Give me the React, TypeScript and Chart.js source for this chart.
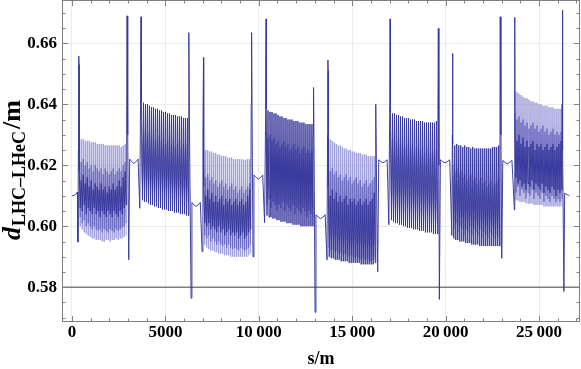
import React, { useEffect, useRef } from "react";
import { Chart, registerables } from "chart.js";
Chart.register(...registerables);

// ---- axes ----
const X_MIN = -533;
const X_MAX = 27192;
const Y_MIN = 0.5686;
const Y_MAX = 0.6742;
const xTickValues = [0, 5000, 10000, 15000, 20000, 25000];
const yTickValues = [0.58, 0.6, 0.62, 0.64, 0.66];
const xMinorStep = 1000;
const yMinorStep = 0.005;
const referenceLevel = 0.58;

// ---- lattice: arc start positions (m) and half-cell length (m) ----
const arcStarts = [390, 3722, 7054, 10386, 13718, 17050, 20382, 23714];
const halfCell = 53.45;

// ---- arc values, in mm (peak / trough per cell) ----
const arc1LightHi = [629,628.5,628.5,628,628,628,627.5,627.5,627.5,627,627,627,627,626.5,626.5,626.5,626.5,626.5,626.5,626.5,626.5,626,626.5,627];
const arc1LightLo = [600,599,598,597.5,597,596.5,596,596,595.5,595.5,595.5,595,595,595.5,595.5,595,595.5,595.5,596,595.5,596,596,596.5,597];
const arc1MidHi = [623,621,622,620,621,619,620,618,620,619,618,619,617,619,618,617,618,619,617,618,619,618,620,621];
const arc1MidLo = [603,601,602,600,601,600,599,600,599,598.5,599,598,599,598.5,598,599,598.5,598,599,598.5,599,599.5,600,601];
const arc1DarkHi = [618,615,617,614,616,613,615,612,614,613,612,614,612,613,611,613,612,614,612,613,615,613,616,618];
const arc1DarkLo = [606,605,607,604,606,605,604,606,604,605,603,605,604,603,605,604,603,605,604,603,605,604,606,607];

const arc2LightHi = [628,626,627,625,626,624,626,625,623,625,624,626,623,624,622,624,623,621,623,622,621,623,622,621];
const arc2LightLo = [614,616,613,615,614,612,614,613,615,612,614,613,612,614,611,613,612,611,613,612,610,612,611,610];
const arc2MidHi = [633,631,632,630,631,629,630,628,629,630,628,629,627,628,629,627,628,626,627,628,626,627,626,627];
const arc2MidLo = [612,614,611,613,612,610,612,611,613,610,612,611,610,612,609,611,610,609,611,610,608,610,609,608];
const arc2DarkHi = [641,640.5,640,640,639.5,639,639,638.5,638.5,638,638,637.5,637.5,637,637,636.5,636.5,636.5,636,636,636,635.5,635.5,635.5];
const arc2DarkLo = [608.5,608,608,607.5,607,607,606.5,606.5,606,606,605.5,605.5,605.5,605,605,605,604.5,604.5,604.5,604,604,604,603.5,603.5];

const arc3LightHi = [625.5,625,625,624.5,624.5,624,624,623.5,623.5,623,623,623,622.5,622.5,622.5,622,622,622,622,622,621.8,621.8,622,622];
const arc3LightLo = [594,593,592.5,592,592,591.5,591.5,591,591,591,590.5,590.5,590.5,590,590,590,590,590,590,590,590,590,590.5,591];
const arc3MidHi = [618,616,617,615,616,614,615,613,614,615,613,614,612,613,614,612,613,611,612,613,611,612,613,614];
const arc3MidLo = [597,596,597,595,596,595,594,595,594,593.5,594,593,594,593,592.5,593,592.5,592,593,592.5,592,592.5,593,594];
const arc3DarkHi = [613,610,612,609,611,608,610,608,609,610,607,609,608,609,607,608,609,607,608,609,607,608,610,612];
const arc3DarkLo = [601,600,601,599,600,599,598,600,598,599,597,598,599,597,598,597,598,596,597,598,596,597,598,599];

const arc4LightHi = [626,624,625,623,624,622,624,623,621,623,622,624,621,622,620,622,621,619,621,620,619,621,620,619];
const arc4LightLo = [610,612,609,611,610,608,610,609,611,608,610,609,608,610,607,609,608,607,609,608,606,608,607,606];
const arc4MidHi = [631,629,630,628,629,627,628,626,627,628,626,627,625,626,627,625,626,624,625,626,624,625,624,625];
const arc4MidLo = [607,609,606,608,607,605,607,606,608,605,607,606,605,607,604,606,605,604,606,605,603,605,604,603];
const arc4DarkHi = [638.5,638,637.5,637.5,637,637,636.5,636,636,635.5,635.5,635,635,635,634.5,634.5,634.5,634,634,634,633.5,633.5,633.5,633.5];
const arc4DarkLo = [603.5,603,603,602.5,602.5,602,602,601.5,601.5,601.5,601,601,601,600.5,600.5,600.5,600.5,600,600,600,600,600,600,600];

const arc5LightHi = [629,628.5,628,627.5,627,626.5,626.5,626,625.5,625.5,625,625,624.5,624.5,624,624,624,623.5,623.5,623.5,623,623,623,623];
const arc5LightLo = [598,597,597.5,596.5,597,596,596.5,595.5,596,595.5,595,595.5,594.5,595,594.5,594,594.5,594,593.5,594,593.5,593,593.5,594];
const arc5MidHi = [620,618,619,617,618,616,617,615,616,617,615,616,614,615,616,614,615,613,614,615,613,614,615,616];
const arc5MidLo = [593,592,592.5,591.5,592,591,591.5,590.5,591,590.5,590,590.5,590,589.5,590,589.5,589,589.5,589,589.5,589,588.5,589,589.5];
const arc5DarkHi = [613,610,612,609,611,608,610,608,609,610,607,609,608,609,607,608,609,607,608,609,607,608,609,611];
const arc5DarkLo = [590,589.5,589.5,589,589,589,588.5,588.5,588.5,588.5,588,588,588,588,588,588,587.5,587.5,587.5,587.5,587.5,587.5,587.5,588];

const arc6LightHi = [626,624,625,623,624,622,624,623,621,623,622,624,621,622,620,622,621,619,621,620,619,621,620,619];
const arc6LightLo = [609,611,608,610,609,607,609,608,610,607,609,608,607,609,606,608,607,606,608,607,605,607,606,605];
const arc6MidHi = [631,629,630,628,629,627,628,626,627,628,626,627,625,626,627,625,626,624,625,626,624,625,624,625];
const arc6MidLo = [605,607,604,606,605,603,605,604,606,603,605,604,603,605,602,604,603,602,604,603,601,603,602,601];
const arc6DarkHi = [637.5,637,637,636.5,636.5,636,636,635.5,635.5,635.5,635,635,635,634.5,634.5,634.5,634.5,634,634,634,634,634,634,634.5];
const arc6DarkLo = [602,601.5,601,601,600.5,600.5,600,600,599.5,599.5,599.5,599,599,599,598.5,598.5,598.5,598,598,598,598,597.5,597.5,597.5];

const arc7LightHi = [616,614,615,613,614,612,614,613,611,613,612,614,611,612,610,612,611,609,611,610,609,611,610,611];
const arc7LightLo = [602,604,601,603,602,600,602,601,603,600,602,601,600,602,599,601,600,599,601,600,599,600,599,600];
const arc7MidHi = [620,618,619,617,618,616,617,615,616,617,615,616,614,615,616,614,615,613,614,615,613,614,615,616];
const arc7MidLo = [599,601,598,600,599,597,599,598,600,597,599,598,597,599,596,598,597,596,598,597,596,597,596,597];
const arc7DarkHi = [627,626.5,627,626.5,626.5,626,626.5,626,626,625.5,626,625.5,625.5,625.5,625.5,625.5,625.5,625.5,625.5,625.5,626,626,626,626.5];
const arc7DarkLo = [596,595.5,595.5,595,595,595,594.5,594.5,594.5,594,594,594,594,593.5,593.5,593.5,593.5,593.5,593.5,593.5,593.5,593.5,593.5,593.5];

const arc8LightHi = [644.5,644,643.5,643,642.5,642,642,641.5,641,641,640.5,640.5,640,640,639.5,639.5,639.5,639,639,639,638.5,638.5,638.5,638.5];
const arc8LightLo = [608.5,608.5,608,608,608,607.5,607.5,607.5,607.5,607,607,607,607,607,606.5,606.5,606.5,606.5,606.5,606.5,606.5,606.5,606.5,606.5];
const arc8MidHi = [637,635,636,634,635,633,634,632,633,634,632,633,631,632,633,631,632,630,631,632,630,631,630,631];
const arc8MidLo = [611,613,610,612,611,609,611,610,612,609,611,610,609,611,608,610,609,608,610,609,608,609,608,609];
const arc8DarkHi = [631,628,630,627,629,626,628,626,627,628,625,627,626,627,625,626,627,625,626,627,625,626,627,628];
const arc8DarkLo = [616,614,615,613,614,612,614,613,615,612,614,613,612,614,611,613,612,611,613,612,610,612,611,612];

// ---- insertion regions & spikes (s in m, value in m) ----
const ir1HeadS = [0, 100, 200, 290, 320, 345, 365, 378];
const ir1HeadV = [0.61, 0.6101, 0.6104, 0.6112, 0.5948, 0.625, 0.6558, 0.653];
const t1S = [2930, 2950, 2985, 3040, 3090, 3200, 3312, 3424, 3540, 3630, 3670, 3698, 3712];
const t1V = [0.64, 0.669, 0.63, 0.589, 0.622, 0.6212, 0.6205, 0.6212, 0.622, 0.6059, 0.64, 0.6687, 0.661];
const t2S = [6250, 6262, 6300, 6375, 6420, 6530, 6644, 6758, 6870, 6965, 7010, 7040, 7050];
const t2V = [0.64, 0.6635, 0.625, 0.5764, 0.6078, 0.607, 0.6065, 0.607, 0.6078, 0.5917, 0.63, 0.6553, 0.6523];
const t3S = [9595, 9615, 9650, 9690, 9740, 9860, 9976, 10090, 10210, 10310, 10370, 10400, 10412];
const t3V = [0.64, 0.6635, 0.628, 0.59, 0.6168, 0.616, 0.6155, 0.616, 0.6168, 0.6012, 0.64, 0.668, 0.661];
const t4S = [12915, 12930, 12965, 13010, 13060, 13180, 13308, 13430, 13550, 13650, 13680, 13700, 13712];
const t4V = [0.63, 0.6455, 0.62, 0.5718, 0.6038, 0.603, 0.6025, 0.603, 0.6038, 0.589, 0.63, 0.6545, 0.651];
const t5S = [16250, 16270, 16310, 16365, 16420, 16530, 16640, 16750, 16870, 16960, 17010, 17030, 17042];
const t5V = [0.625, 0.64, 0.61, 0.5851, 0.6218, 0.6212, 0.6208, 0.6212, 0.6218, 0.6005, 0.64, 0.668, 0.662];
const t6S = [19590, 19610, 19640, 19665, 19720, 19840, 19972, 20100, 20220, 20330, 20360, 20372, 20380];
const t6V = [0.64, 0.6649, 0.62, 0.576, 0.6218, 0.6212, 0.6208, 0.6212, 0.6218, 0.597, 0.63, 0.6567, 0.653];
const t7S = [22910, 22922, 22960, 23005, 23060, 23180, 23304, 23430, 23550, 23680, 23692, 23700, 23710];
const t7V = [0.64, 0.6687, 0.63, 0.5895, 0.6216, 0.6209, 0.6205, 0.6209, 0.6216, 0.6054, 0.64, 0.6685, 0.6638];
const t8S = [26235, 26242, 26280, 26330, 26370, 26500, 26620];
const t8V = [0.64, 0.6709, 0.625, 0.5786, 0.6108, 0.6104, 0.61];

type Pt = { x: number; y: number | null };

function arcPoints(k: number, hi: number[], lo: number[]): Pt[] {
  const pts: Pt[] = [];
  for (let i = 0; i < hi.length; i++) {
    pts.push({ x: arcStarts[k] + 2 * i * halfCell, y: hi[i] / 1000 });
    pts.push({ x: arcStarts[k] + (2 * i + 1) * halfCell, y: lo[i] / 1000 });
  }
  return pts;
}
function pairPoints(s: number[], v: number[]): Pt[] {
  return s.map((x, i) => ({ x, y: v[i] }));
}

const lightArcs = [
  [arc1LightHi, arc1LightLo], [arc2LightHi, arc2LightLo], [arc3LightHi, arc3LightLo], [arc4LightHi, arc4LightLo],
  [arc5LightHi, arc5LightLo], [arc6LightHi, arc6LightLo], [arc7LightHi, arc7LightLo], [arc8LightHi, arc8LightLo],
];
const midArcs = [
  [arc1MidHi, arc1MidLo], [arc2MidHi, arc2MidLo], [arc3MidHi, arc3MidLo], [arc4MidHi, arc4MidLo],
  [arc5MidHi, arc5MidLo], [arc6MidHi, arc6MidLo], [arc7MidHi, arc7MidLo], [arc8MidHi, arc8MidLo],
];
const darkArcs = [
  [arc1DarkHi, arc1DarkLo], [arc2DarkHi, arc2DarkLo], [arc3DarkHi, arc3DarkLo], [arc4DarkHi, arc4DarkLo],
  [arc5DarkHi, arc5DarkLo], [arc6DarkHi, arc6DarkLo], [arc7DarkHi, arc7DarkLo], [arc8DarkHi, arc8DarkLo],
];
const transitions = [
  [t1S, t1V], [t2S, t2V], [t3S, t3V], [t4S, t4V], [t5S, t5V], [t6S, t6V], [t7S, t7V], [t8S, t8V],
];

function gappedSeries(arcs: number[][][]): Pt[] {
  const out: Pt[] = [];
  arcs.forEach(([hi, lo], k) => {
    out.push(...arcPoints(k, hi, lo));
    out.push({ x: arcStarts[k] + 2 * hi.length * halfCell + 1, y: null });
  });
  return out;
}
function darkSeries(): Pt[] {
  const out: Pt[] = pairPoints(ir1HeadS, ir1HeadV);
  darkArcs.forEach(([hi, lo], k) => {
    out.push(...arcPoints(k, hi, lo));
    out.push(...pairPoints(transitions[k][0], transitions[k][1]));
  });
  return out;
}

const FONT = "'Liberation Serif', 'DejaVu Serif', serif";

function fmtX(v: number): string {
  const s = String(Math.round(v));
  if (Math.abs(v) >= 10000) return s.slice(0, s.length - 3) + "\u2009" + s.slice(-3);
  return s;
}

const framePlugin = {
  id: "mmaFrame",
  afterDraw(chart: any) {
    const { ctx, chartArea: a, scales } = chart;
    const xs = scales.x;
    const ys = scales.y;
    ctx.save();
    ctx.strokeStyle = "#808080";
    ctx.lineWidth = 1;
    ctx.strokeRect(a.left + 0.5, a.top + 0.5, a.right - a.left - 1, a.bottom - a.top - 1);
    ctx.beginPath();
    const k0 = Math.ceil(X_MIN / xMinorStep);
    const k1 = Math.floor(X_MAX / xMinorStep);
    for (let k = k0; k <= k1; k++) {
      const v = k * xMinorStep;
      const px = Math.round(xs.getPixelForValue(v)) + 0.5;
      const len = k % 5 === 0 ? 6 : 3.5;
      ctx.moveTo(px, a.bottom);
      ctx.lineTo(px, a.bottom - len);
      ctx.moveTo(px, a.top);
      ctx.lineTo(px, a.top + len);
    }
    const j0 = Math.ceil(Y_MIN / yMinorStep - 1e-9);
    const j1 = Math.floor(Y_MAX / yMinorStep + 1e-9);
    for (let j = j0; j <= j1; j++) {
      const v = j * yMinorStep;
      const py = Math.round(ys.getPixelForValue(v)) + 0.5;
      const len = j % 4 === 0 ? 6 : 3.5;
      ctx.moveTo(a.left, py);
      ctx.lineTo(a.left + len, py);
      ctx.moveTo(a.right, py);
      ctx.lineTo(a.right - len, py);
    }
    ctx.stroke();

    // x title
    ctx.fillStyle = "#000";
    ctx.font = `bold 18px ${FONT}`;
    ctx.textAlign = "center";
    ctx.textBaseline = "alphabetic";
    ctx.fillText("s/m", (a.left + a.right) / 2, 364);

    // y title (rotated): d_{LHC–LHeC}/m
    const mainFont = `italic bold 26px ${FONT}`;
    const subFont = `bold 18px ${FONT}`;
    const tailFont = `bold 26px ${FONT}`;
    const partD = "d";
    const partSub = "LHC\u2013LHeC";
    const partTail = "/m";
    ctx.font = mainFont;
    const wD = ctx.measureText(partD).width;
    ctx.font = subFont;
    const wS = ctx.measureText(partSub).width;
    ctx.font = tailFont;
    const wT = ctx.measureText(partTail).width;
    const total = wD + 1 + wS + 2 + wT;
    ctx.translate(20, 170);
    ctx.rotate(-Math.PI / 2);
    ctx.textAlign = "left";
    let cx = -total / 2;
    ctx.font = mainFont;
    ctx.fillText(partD, cx, 0);
    cx += wD + 1;
    ctx.font = subFont;
    ctx.fillText(partSub, cx, 5);
    cx += wS + 2;
    ctx.font = tailFont;
    ctx.fillText(partTail, cx, 0);
    ctx.restore();
  },
};

export default function App() {
  const ref = useRef<HTMLCanvasElement | null>(null);
  useEffect(() => {
    document.body.style.margin = "0";
    const canvas = ref.current;
    if (!canvas) return;
    const chart = new Chart(canvas, {
      type: "line",
      data: {
        datasets: [
          {
            label: "dark",
            data: darkSeries() as any,
            borderColor: "rgba(55,55,155,0.95)",
            borderWidth: 1,
            pointRadius: 0,
            tension: 0,
            spanGaps: false,
          },
          {
            label: "mid",
            data: gappedSeries(midArcs) as any,
            borderColor: "rgba(100,100,188,0.8)",
            borderWidth: 1,
            pointRadius: 0,
            tension: 0,
            spanGaps: false,
          },
          {
            label: "light",
            data: gappedSeries(lightArcs) as any,
            borderColor: "rgba(150,150,215,0.85)",
            borderWidth: 1,
            pointRadius: 0,
            tension: 0,
            spanGaps: false,
          },
          {
            label: "reference",
            data: [
              { x: X_MIN, y: referenceLevel },
              { x: X_MAX, y: referenceLevel },
            ],
            borderColor: "#7f7f7f",
            borderWidth: 1.5,
            pointRadius: 0,
          },
        ],
      },
      options: {
        responsive: false,
        animation: false,
        events: [],
        layout: { padding: { left: 0, right: 1, top: 0, bottom: 0 } },
        plugins: { legend: { display: false }, tooltip: { enabled: false } },
        scales: {
          x: {
            type: "linear",
            min: X_MIN,
            max: X_MAX,
            border: { display: false },
            grid: { color: "#ebebeb", lineWidth: 1, drawTicks: false },
            afterBuildTicks: (s: any) => {
              s.ticks = xTickValues.map((v) => ({ value: v }));
            },
            afterFit: (s: any) => {
              s.height = 47;
              s.paddingLeft = 0;
              s.paddingRight = 0;
            },
            ticks: {
              autoSkip: false,
              maxRotation: 0,
              padding: 0,
              color: "#000",
              font: { family: FONT, weight: "bold", size: 17 },
              callback: (v: any) => fmtX(Number(v)),
            },
          },
          y: {
            type: "linear",
            min: Y_MIN,
            max: Y_MAX,
            border: { display: false },
            grid: { color: "#ebebeb", lineWidth: 1, drawTicks: false },
            afterBuildTicks: (s: any) => {
              s.ticks = yTickValues.map((v) => ({ value: v }));
            },
            afterFit: (s: any) => {
              s.width = 62;
              s.paddingTop = 0;
              s.paddingBottom = 0;
            },
            ticks: {
              autoSkip: false,
              padding: 5,
              color: "#000",
              font: { family: FONT, weight: "bold", size: 17 },
              callback: (v: any) => Number(v).toFixed(2),
            },
          },
        },
      },
      plugins: [framePlugin],
    });
    return () => chart.destroy();
  }, []);
  return (
    <div style={{ width: 581, height: 369 }}>
      <canvas ref={ref} width={581} height={369} style={{ display: "block" }} />
    </div>
  );
}
